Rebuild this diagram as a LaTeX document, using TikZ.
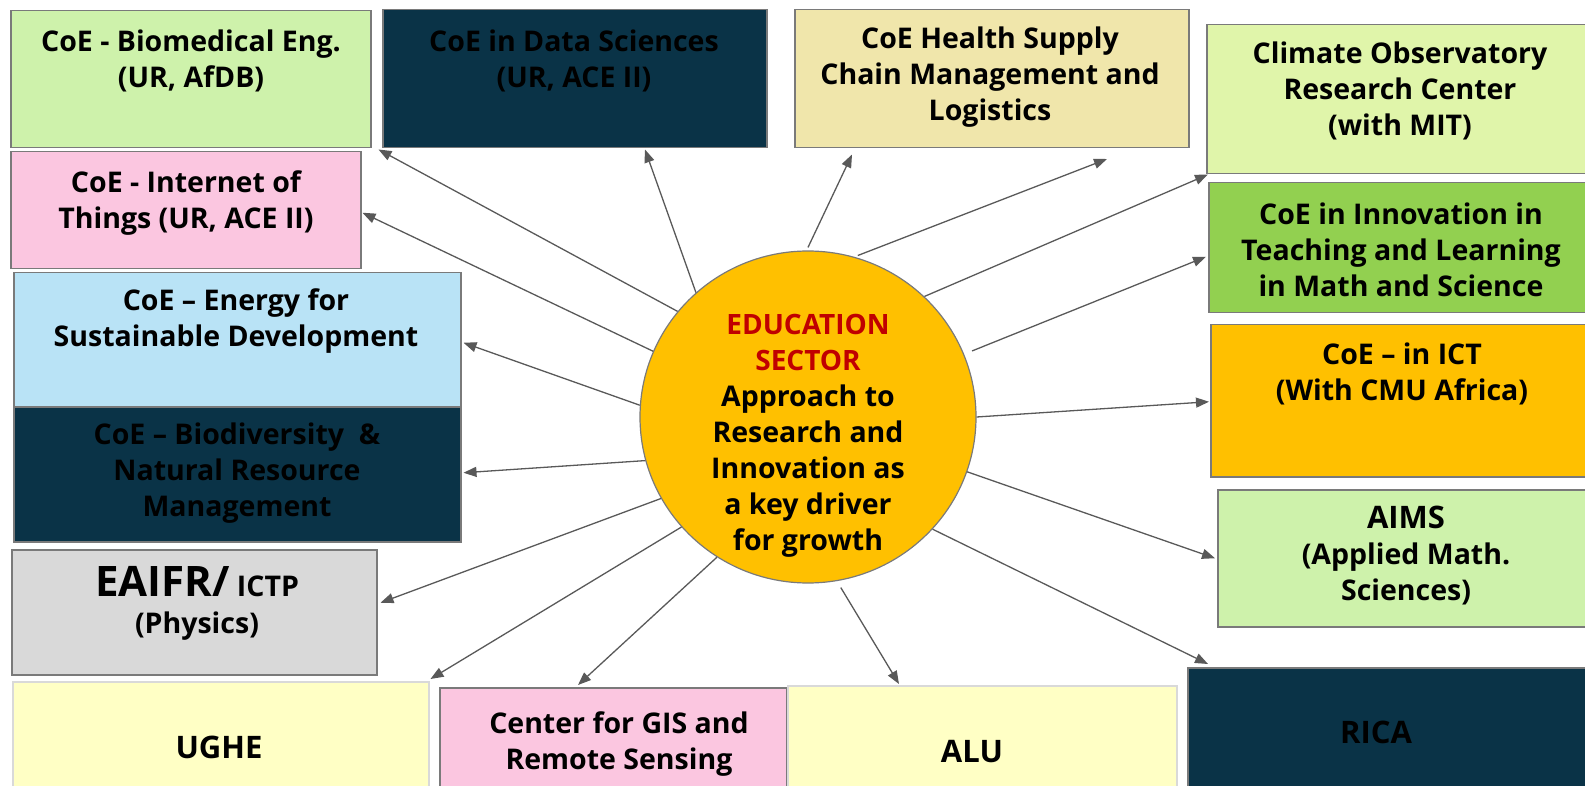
\documentclass[tikz,border=0pt]{standalone}
\usepackage{fontspec}
\setmainfont{Open Sans}
\usetikzlibrary{shapes.geometric,arrows.meta,calc}
\definecolor{lgreen}{HTML}{CEF2AB}
\definecolor{navy}{HTML}{0A3347}
\definecolor{sand}{HTML}{F0E6AB}
\definecolor{lime}{HTML}{E0F5AA}
\definecolor{pinkbox}{HTML}{FBC6E0}
\definecolor{midgreen}{HTML}{92D050}
\definecolor{skyblue}{HTML}{B9E3F6}
\definecolor{amber}{HTML}{FFC000}
\definecolor{lgray}{HTML}{D9D9D9}
\definecolor{pale}{HTML}{FFFFC5}
\definecolor{edred}{HTML}{C00000}
\definecolor{edgegray}{HTML}{7A7A7A}
\definecolor{arrowgray}{HTML}{595959}
\newcommand\edline[1]{{\color{edred}\fontsize{28}{33}\selectfont #1}}
\newcommand\capsword[1]{{\fontsize{31}{36}\selectfont #1}}
\begin{document}
\begin{tikzpicture}[x=1pt,y=-1pt,
  box/.style={rectangle, draw=edgegray, line width=1.5pt, inner sep=0pt, anchor=north west},
  palebox/.style={box, draw=lgray},
  lbl/.style={align=center, inner sep=0pt, text=black, font=\bfseries\fontsize{28.5}{36}\selectfont},
  arr/.style={draw=arrowgray, line width=1.3pt, -{Triangle[length=13pt,width=10pt]}}]
\useasboundingbox (0,0) rectangle (1585,786);
\clip (0,0) rectangle (1585,786);
% boxes
\node[box, fill=lgreen, minimum width=360pt, minimum height=137pt] (bio) at (10,10) {};
\node[box, fill=navy, minimum width=384pt, minimum height=138pt] (ds) at (382,9) {};
\node[box, fill=sand, minimum width=394pt, minimum height=138pt] (hs) at (794,9) {};
\node[box, fill=lime, minimum width=394pt, minimum height=149pt] (clim) at (1206,24) {};
\node[box, fill=pinkbox, minimum width=350pt, minimum height=117pt] (iot) at (10,151) {};
\node[box, fill=midgreen, minimum width=392pt, minimum height=130pt] (inn) at (1208,182) {};
\node[box, fill=skyblue, minimum width=447pt, minimum height=134pt] (en) at (13,272) {};
\node[box, fill=navy, minimum width=447pt, minimum height=135pt] (bd) at (13,406) {};
\node[box, fill=amber, minimum width=390pt, minimum height=152pt] (ict) at (1210,324) {};
\node[box, fill=lgreen, minimum width=383pt, minimum height=137pt] (aims) at (1217,489) {};
\node[box, fill=lgray, minimum width=365pt, minimum height=125pt] (ea) at (11,549) {};
\node[palebox, fill=pale, minimum width=416pt, minimum height=119pt] (ughe) at (12,681) {};
\node[box, fill=pinkbox, minimum width=347pt, minimum height=113pt] (gis) at (439,687) {};
\node[palebox, fill=pale, minimum width=389pt, minimum height=115pt] (alu) at (787,685) {};
\node[box, fill=navy, minimum width=413pt, minimum height=133pt] (rica) at (1187,667) {};
% labels
\node[lbl] (biot) at (191,61) {CoE - Biomedical Eng.\\(UR, AfDB)};
\node[lbl] (dst) at (574,61) {CoE in Data Sciences\\(UR, ACE II)};
\node[lbl] (hst) at (990,77) {CoE Health Supply\\Chain Management and\\Logistics};
\node[lbl] (climt) at (1400,91) {Climate Observatory\\Research Center\\(with MIT)};
\node[lbl] (iott) at (186,203) {CoE - Internet of\\Things (UR, ACE II)};
\node[lbl] (innt) at (1401,250) {CoE in Innovation in\\Teaching and Learning\\in Math and Science};
\node[lbl] (ent) at (236,321) {CoE -- Energy for\\Sustainable Development};
\node[lbl] (bdt) at (237,473) {CoE -- Biodiversity\ \ \&\\Natural Resource\\Management};
\node[lbl] (ictt) at (1402,374) {CoE -- in ICT\\(With CMU Africa)};
\node[lbl] (aimst) at (1406,556) {\capsword{AIMS}\\(Applied Math.\\Sciences)};
\node[lbl] (eat) at (197,603) {{\fontsize{42}{44}\selectfont EAIFR/} ICTP\\[1pt](Physics)};
\node[lbl] (ughet) at (219,747) {\capsword{UGHE}};
\node[lbl] (gist) at (619,744) {Center for GIS and\\Remote Sensing};
\node[lbl] (alut) at (972,752) {\capsword{ALU}};
\node[lbl] (ricat) at (1376,732) {\capsword{RICA}};
% centre
\node[ellipse, draw=edgegray, line width=1.2pt, fill=amber, minimum width=336pt, minimum height=332pt, inner sep=0pt] (c) at (808,417) {};
\node[lbl] (ct) at (808,436) {\edline{EDUCATION}\\\edline{SECTOR}\\Approach to\\Research and\\Innovation as\\a key driver\\for growth};
\coordinate (free) at (1107,159);
% arrows
\draw[arr] (c.141) -- ($(bio.south east)+(7,1)$);
\draw[arr] (c.132) -- ($(ds.south west)+(263,1)$);
\draw[arr] ($(c.90)+(0,-3)$) -- ($(hs.south west)+(58,6)$);
\draw[arr] ($(c.73.5)+(1,-2)$) -- (free);
\draw[arr] (c.46) -- ($(clim.south west)+(2,0)$);
\draw[arr] ($(c.22)+(8,-3)$) -- ($(inn.west)+(-2,9)$);
\draw[arr] (c.0) -- ($(ict.west)+(-1,1)$);
\draw[arr] (c.-19.6) -- ($(aims.west)+(-2,0)$);
\draw[arr] (c.-42) -- ($(rica.north west)+(21,-3)$);
\draw[arr] ($(c.-79)+(1,7)$) -- ($(alu.north west)+(112,-1)$);
\draw[arr] (c.-123.4) -- ($(gis.north west)+(139,-2)$);
\draw[arr] (c.-139) -- ($(ughe.north east)+(1,-2)$);
\draw[arr] (c.-151.6) -- ($(ea.east)+(3,-9.5)$);
\draw[arr] (c.-165.7) -- ($(bd.east)+(2,-1.5)$);
\draw[arr] (c.176.6) -- ($(en.east)+(2,3)$);
\draw[arr] (c.157) -- ($(iot.east)+(1,2.5)$);
\end{tikzpicture}
\end{document}
